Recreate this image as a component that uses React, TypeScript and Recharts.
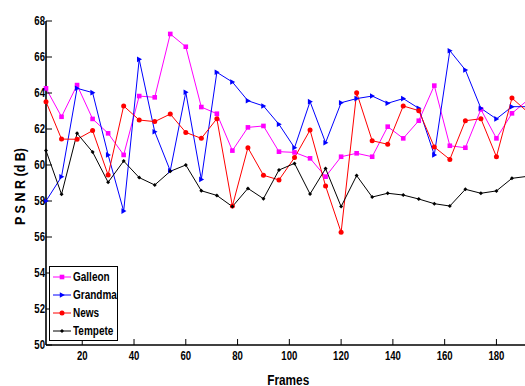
import React from 'react';
import { LineChart, Line, XAxis, YAxis, Legend } from 'recharts';

const FONT = "'Liberation Sans', Arial, Helvetica, sans-serif";

const frames = [6, 12, 18, 24, 30, 36, 42, 48, 54, 60, 66, 72, 78, 84, 90, 96, 102, 108, 114, 120, 126, 132, 138, 144, 150, 156, 162, 168, 174, 180, 186, 192];
const galleon = [64.26, 62.68, 64.44, 62.56, 61.76, 60.56, 63.83, 63.76, 67.28, 66.57, 63.22, 62.85, 60.8, 62.09, 62.17, 60.74, 60.7, 60.37, 59.35, 60.46, 60.65, 60.46, 62.13, 61.48, 62.46, 64.41, 61.07, 60.96, 63.09, 61.48, 62.87, 63.6];
const grandma = [58.0, 59.35, 64.26, 64.02, 60.56, 57.44, 65.87, 61.85, 59.68, 64.04, 59.2, 65.15, 64.61, 63.57, 63.28, 62.26, 60.96, 63.52, 61.24, 63.46, 63.69, 63.83, 63.43, 63.69, 63.15, 60.56, 66.35, 65.28, 63.15, 62.56, 63.24, 63.24];
const news = [63.52, 61.44, 61.43, 61.91, 59.44, 63.28, 62.5, 62.41, 62.83, 61.81, 61.48, 62.57, 57.72, 60.96, 59.43, 59.17, 60.41, 61.94, 58.83, 56.26, 64.02, 61.35, 61.15, 63.28, 63.02, 61.0, 60.31, 62.46, 62.57, 60.46, 63.72, 62.95];
const tempete = [60.8, 58.37, 61.76, 60.72, 59.04, 60.22, 59.3, 58.89, 59.65, 60.0, 58.57, 58.31, 57.69, 58.7, 58.13, 59.72, 60.09, 58.39, 59.8, 57.69, 59.41, 58.22, 58.43, 58.33, 58.11, 57.85, 57.72, 58.65, 58.43, 58.56, 59.26, 59.37];

const xTicks = [20, 40, 60, 80, 100, 120, 140, 160, 180];
const yTicks = [50, 52, 54, 56, 58, 60, 62, 64, 66, 68];

const seriesNames = ['Galleon', 'Grandma', 'News', 'Tempete'];
const seriesColors = ['#ff00ff', '#0000ff', '#ff0000', '#000000'];
const seriesMarkers = ['square', 'triangle', 'circle', 'diamond'];

const data = frames.map((f, i) => ({
  frame: f,
  Galleon: galleon[i],
  Grandma: grandma[i],
  News: news[i],
  Tempete: tempete[i],
}));

function markerShape(kind: string, cx: number, cy: number, color: string) {
  if (kind === 'square') {
    return <rect x={cx - 2.3} y={cy - 2.3} width={4.6} height={4.6} fill={color} />;
  }
  if (kind === 'triangle') {
    return <path d={`M${cx - 2.2} ${cy - 2.8} L${cx + 2.8} ${cy} L${cx - 2.2} ${cy + 2.8} Z`} fill={color} />;
  }
  if (kind === 'circle') {
    return <circle cx={cx} cy={cy} r={2.5} fill={color} />;
  }
  return <path d={`M${cx} ${cy - 2} L${cx + 2} ${cy} L${cx} ${cy + 2} L${cx - 2} ${cy} Z`} fill={color} />;
}

const makeDot = (kind: string, color: string) => (props: any) => {
  const { cx, cy, index } = props;
  if (cx == null || cy == null) return <g key={`d-${index}`} />;
  return <g key={`d-${kind}-${index}`}>{markerShape(kind, cx, cy, color)}</g>;
};

const SX = 0.8;

const BottomTick = (props: any) => {
  const { x, y, payload } = props;
  return (
    <g transform={`translate(${x},${y}) scale(${SX},1)`}>
      <text x={0} y={0} dy="0.71em" textAnchor="middle" fontFamily={FONT} fontWeight="bold" fontSize={12} fill="#000">
        {payload.value}
      </text>
    </g>
  );
};

const LeftTick = (props: any) => {
  const { x, y, payload } = props;
  return (
    <g transform={`translate(${x},${y}) scale(${SX},1)`}>
      <text x={0} y={0} dy="0.355em" textAnchor="end" fontFamily={FONT} fontWeight="bold" fontSize={12} fill="#000">
        {payload.value}
      </text>
    </g>
  );
};

const LegendBox = () => (
  <div
    style={{
      border: '1px solid #000',
      background: '#fff',
      padding: '1px 0 0 3px',
      width: 64,
      boxSizing: 'content-box',
      fontFamily: FONT,
      fontWeight: 'bold',
      fontSize: 12.5,
      color: '#000',
      overflow: 'hidden',
    }}
  >
    {seriesNames.map((name, i) => (
      <div key={name} style={{ display: 'flex', alignItems: 'center', height: 18, whiteSpace: 'nowrap' }}>
        <svg width={18} height={10} style={{ display: 'block', overflow: 'visible', flex: 'none' }}>
          <line x1={0} y1={5} x2={18} y2={5} stroke={seriesColors[i]} strokeWidth={1} />
          {markerShape(seriesMarkers[i], 9, 5, seriesColors[i])}
        </svg>
        <span
          style={{
            marginLeft: 2,
            lineHeight: '18px',
            display: 'inline-block',
            transform: `scaleX(${SX})`,
            transformOrigin: 'left center',
          }}
        >
          {name}
        </span>
      </div>
    ))}
  </div>
);

export default function App() {
  return (
    <div style={{ position: 'absolute', left: 0, top: 0, width: 525, height: 386, overflow: 'hidden', background: '#fff' }}>
      <LineChart width={530} height={386} data={data} margin={{ top: 21, right: 2.5, bottom: 0, left: 0 }}>
        <XAxis
          xAxisId="bottom"
          type="number"
          dataKey="frame"
          domain={[6, 192]}
          ticks={xTicks}
          interval={0}
          height={41}
          tickSize={-6}
          tickMargin={12}
          tick={<BottomTick />}
          axisLine={{ stroke: '#000', strokeWidth: 1.6 }}
          tickLine={{ stroke: '#000', strokeWidth: 1 }}
          label={(p: any) => {
            const vb = p.viewBox || {};
            return (
              <text
                x={vb.x + vb.width / 2 + 1.5}
                y={vb.y + 39.5}
                textAnchor="middle"
                textLength={42}
                lengthAdjust="spacingAndGlyphs"
                fontFamily={FONT}
                fontWeight="bold"
                fontSize={14}
                fill="#000"
              >
                Frames
              </text>
            );
          }}
        />
        <XAxis
          xAxisId="top"
          orientation="top"
          type="number"
          dataKey="frame"
          domain={[6, 192]}
          ticks={xTicks}
          interval={0}
          height={0}
          tickSize={-6}
          tick={false}
          axisLine={{ stroke: '#000', strokeWidth: 1.4 }}
          tickLine={{ stroke: '#000', strokeWidth: 1 }}
        />
        <YAxis
          yAxisId="left"
          type="number"
          domain={[50, 68]}
          ticks={yTicks}
          interval={0}
          width={46}
          tickSize={-6}
          tickMargin={7}
          tick={<LeftTick />}
          axisLine={{ stroke: '#000', strokeWidth: 1.6 }}
          tickLine={{ stroke: '#000', strokeWidth: 1 }}
          label={(p: any) => {
            const vb = p.viewBox || {};
            const cx = vb.x + 20;
            const cy = vb.y + vb.height / 2 + 3.5;
            return (
              <text
                x={cx}
                y={cy}
                transform={`rotate(-90 ${cx} ${cy})`}
                textAnchor="middle"
                dominantBaseline="central"
                textLength={77}
                lengthAdjust="spacingAndGlyphs"
                fontFamily={FONT}
                fontWeight="bold"
                fontSize={14}
                fill="#000"
              >
                P S N R (d B)
              </text>
            );
          }}
        />
        <YAxis
          yAxisId="right"
          orientation="right"
          type="number"
          domain={[50, 68]}
          ticks={yTicks}
          interval={0}
          width={0}
          tickSize={-6}
          tick={false}
          axisLine={{ stroke: '#000', strokeWidth: 1.4 }}
          tickLine={{ stroke: '#000', strokeWidth: 1 }}
        />
        <Legend
          layout="vertical"
          align="center"
          verticalAlign="middle"
          wrapperStyle={{ left: 49, top: 266, width: 'auto', height: 'auto' }}
          content={() => <LegendBox />}
        />
        {seriesNames.map((name, i) => (
          <Line
            key={name}
            xAxisId="bottom"
            yAxisId="left"
            type="linear"
            dataKey={name}
            stroke={seriesColors[i]}
            strokeWidth={1}
            dot={makeDot(seriesMarkers[i], seriesColors[i])}
            activeDot={false}
            isAnimationActive={false}
          />
        ))}
      </LineChart>
    </div>
  );
}
